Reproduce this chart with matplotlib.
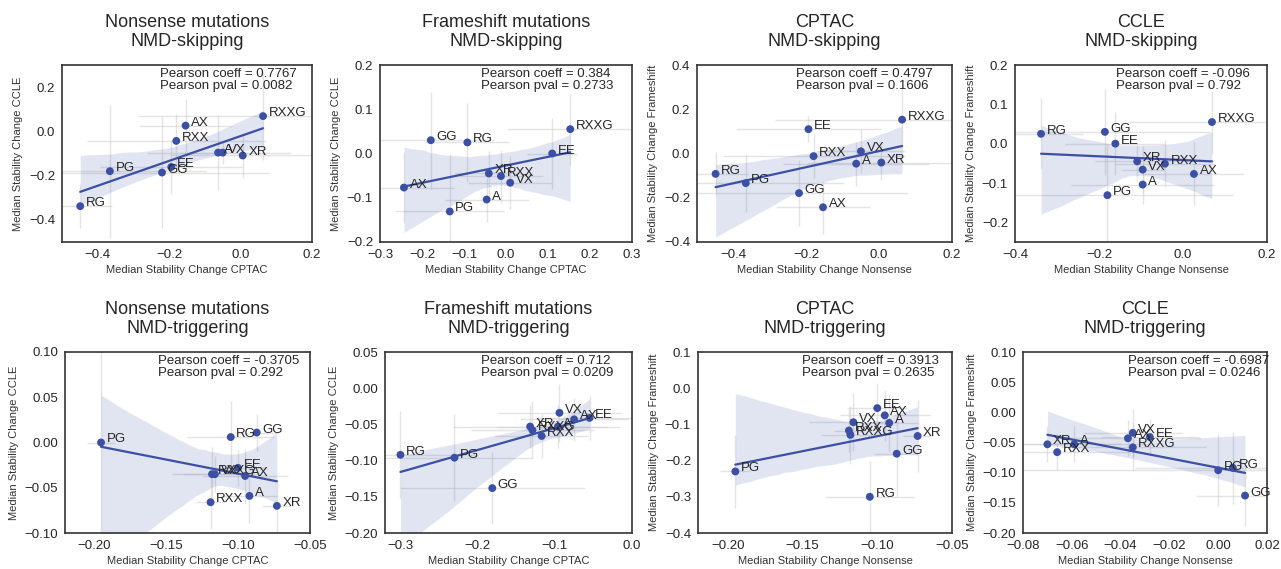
import numpy as np
import matplotlib
matplotlib.use("Agg")
import matplotlib.pyplot as plt
import seaborn as sns

sns.set_style("white")
plt.rcParams['font.family'] = ['Liberation Sans', 'DejaVu Sans']
plt.rcParams['axes.edgecolor'] = '#333333'
plt.rcParams['axes.linewidth'] = 1.2
plt.rcParams['text.color'] = '#262626'
plt.rcParams['xtick.color'] = '#262626'
plt.rcParams['ytick.color'] = '#262626'

labels = ['A', 'AX', 'EE', 'GG', 'PG', 'RG', 'RXX', 'RXXG', 'VX', 'XR']

# ---- NMD-skipping medians ----
skip_nonsense_cptac = [-0.063, -0.154, -0.194, -0.220, -0.366, -0.449, -0.180, 0.063, -0.050, 0.006]
skip_nonsense_ccle = [-0.096, 0.026, -0.161, -0.186, -0.180, -0.338, -0.043, 0.069, -0.096, -0.109]
skip_frameshift_cptac = [-0.046, -0.243, 0.110, -0.179, -0.134, -0.092, -0.012, 0.153, 0.010, -0.041]
skip_frameshift_ccle = [-0.104, -0.077, 0.000, 0.030, -0.131, 0.025, -0.051, 0.055, -0.066, -0.045]
# ---- NMD-skipping spreads (half widths) ----
skip_nonsense_cptac_err = [0.20, 0.13, 0.20, 0.30, 0.27, 0.09, 0.25, 0.35, 0.12, 0.20]
skip_nonsense_ccle_err = [0.17, 0.12, 0.12, 0.25, 0.30, 0.10, 0.12, 0.20, 0.05, 0.10]
skip_frameshift_cptac_err = [0.10, 0.12, 0.06, 0.15, 0.13, 0.10, 0.10, 0.15, 0.10, 0.08]
skip_frameshift_ccle_err = [0.05, 0.08, 0.08, 0.11, 0.13, 0.09, 0.06, 0.08, 0.06, 0.05]

# ---- NMD-triggering medians ----
trig_nonsense_cptac = [-0.092, -0.095, -0.100, -0.087, -0.195, -0.105, -0.119, -0.118, -0.116, -0.073]
trig_nonsense_ccle = [-0.059, -0.037, -0.028, 0.011, 0.000, 0.006, -0.066, -0.035, -0.035, -0.070]
trig_frameshift_cptac = [-0.096, -0.075, -0.055, -0.181, -0.230, -0.300, -0.117, -0.129, -0.094, -0.132]
trig_frameshift_ccle = [-0.053, -0.043, -0.041, -0.138, -0.096, -0.092, -0.066, -0.058, -0.034, -0.053]
# ---- NMD-triggering spreads (half widths) ----
trig_nonsense_cptac_err = [0.02, 0.03, 0.02, 0.015, 0.01, 0.03, 0.01, 0.02, 0.03, 0.01]
trig_nonsense_ccle_err = [0.03, 0.03, 0.02, 0.02, 0.10, 0.04, 0.03, 0.03, 0.02, 0.03]
trig_frameshift_cptac_err = [0.08, 0.07, 0.07, 0.12, 0.10, 0.10, 0.06, 0.08, 0.08, 0.10]
trig_frameshift_ccle_err = [0.03, 0.03, 0.03, 0.05, 0.06, 0.06, 0.03, 0.04, 0.04, 0.03]

titles = ['Nonsense mutations\nNMD-skipping', 'Frameshift mutations\nNMD-skipping',
          'CPTAC\nNMD-skipping', 'CCLE\nNMD-skipping',
          'Nonsense mutations\nNMD-triggering', 'Frameshift mutations\nNMD-triggering',
          'CPTAC\nNMD-triggering', 'CCLE\nNMD-triggering']
xlabels = ['Median Stability Change CPTAC', 'Median Stability Change CPTAC',
           'Median Stability Change Nonsense', 'Median Stability Change Nonsense'] * 2
ylabels = ['Median Stability Change CCLE', 'Median Stability Change CCLE',
           'Median Stability Change Frameshift', 'Median Stability Change Frameshift'] * 2
pearson_coeff = ['0.7767', '0.384', '0.4797', '-0.096', '-0.3705', '0.712', '0.3913', '-0.6987']
pearson_pval = ['0.0082', '0.2733', '0.1606', '0.792', '0.292', '0.0209', '0.2635', '0.0246']

panels = [
    (skip_nonsense_cptac, skip_nonsense_ccle, skip_nonsense_cptac_err, skip_nonsense_ccle_err),
    (skip_frameshift_cptac, skip_frameshift_ccle, skip_frameshift_cptac_err, skip_frameshift_ccle_err),
    (skip_nonsense_cptac, skip_frameshift_cptac, skip_nonsense_cptac_err, skip_frameshift_cptac_err),
    (skip_nonsense_ccle, skip_frameshift_ccle, skip_nonsense_ccle_err, skip_frameshift_ccle_err),
    (trig_nonsense_cptac, trig_nonsense_ccle, trig_nonsense_cptac_err, trig_nonsense_ccle_err),
    (trig_frameshift_cptac, trig_frameshift_ccle, trig_frameshift_cptac_err, trig_frameshift_ccle_err),
    (trig_nonsense_cptac, trig_frameshift_cptac, trig_nonsense_cptac_err, trig_frameshift_cptac_err),
    (trig_nonsense_ccle, trig_frameshift_ccle, trig_nonsense_ccle_err, trig_frameshift_ccle_err),
]

xlims = [(-0.5, 0.2), (-0.3, 0.3), (-0.5, 0.2), (-0.4, 0.2),
         (-0.22, -0.05), (-0.32, 0.0), (-0.22, -0.05), (-0.08, 0.02)]
ylims = [(-0.5, 0.3), (-0.2, 0.2), (-0.4, 0.4), (-0.25, 0.2),
         (-0.1, 0.1), (-0.2, 0.05), (-0.4, 0.1), (-0.2, 0.1)]
xticks = [np.arange(-0.4, 0.21, 0.2), np.arange(-0.3, 0.31, 0.1), np.arange(-0.4, 0.21, 0.2),
          np.arange(-0.4, 0.21, 0.2), np.arange(-0.20, -0.049, 0.05), np.arange(-0.3, 0.01, 0.1),
          np.arange(-0.20, -0.049, 0.05), np.arange(-0.08, 0.021, 0.02)]
yticks = [np.arange(-0.4, 0.21, 0.2), np.arange(-0.2, 0.21, 0.1), np.arange(-0.4, 0.41, 0.2),
          np.arange(-0.2, 0.21, 0.1), np.arange(-0.10, 0.101, 0.05), np.arange(-0.20, 0.051, 0.05),
          np.arange(-0.4, 0.11, 0.1), np.arange(-0.20, 0.101, 0.05)]

# axes boxes in pixels: left, top, right, bottom
W, H = 1281, 569
boxes = [(62, 65, 312, 242), (380, 65, 632, 242), (697, 65, 952, 242), (1015, 65, 1267, 242),
         (65, 352, 310, 533), (385, 352, 632, 533), (698, 352, 952, 533), (1023, 352, 1267, 533)]
text_x = [0.39, 0.40, 0.39, 0.40, 0.38, 0.39, 0.41, 0.43]

color = '#3B4FA5'
fig = plt.figure(figsize=(W / 100, H / 100), dpi=100)

for i, (x, y, xe, ye) in enumerate(panels):
    l, t, r, b = boxes[i]
    ax = fig.add_axes([l / W, 1 - b / H, (r - l) / W, (b - t) / H])
    x = np.array(x)
    y = np.array(y)
    ax.errorbar(x, y, xerr=xe, yerr=ye, fmt='none', ecolor='#cfcfcf', elinewidth=1.0,
                alpha=0.55, zorder=1)
    sns.regplot(x=x, y=y, ax=ax, scatter=False, ci=95, seed=0, truncate=True,
                color=color, line_kws={'lw': 1.6, 'zorder': 2})
    ax.scatter(x, y, s=32, color=color, zorder=3, edgecolors='none')
    for lab, xi, yi in zip(labels, x, y):
        ax.annotate(lab, (xi, yi), xytext=(4, 0), textcoords='offset points',
                    ha='left', va='baseline', fontsize=9.5, color='#262626', zorder=4)
    ax.text(text_x[i], 0.985, f'Pearson coeff = {pearson_coeff[i]}\nPearson pval = {pearson_pval[i]}',
            transform=ax.transAxes, ha='left', va='top', fontsize=9.5, color='#262626',
            linespacing=1.05)
    ax.set_xlim(xlims[i])
    ax.set_ylim(ylims[i])
    ax.set_xticks(xticks[i])
    ax.set_yticks(yticks[i])
    ax.tick_params(labelsize=9.5, length=0, pad=5)
    ax.set_xlabel(xlabels[i], fontsize=8, color='#333333', labelpad=3)
    ax.set_ylabel(ylabels[i], fontsize=8, color='#333333', labelpad=4)
    ax.set_title(titles[i], fontsize=13, pad=14, color='#262626', linespacing=1.15)

fig.savefig('out.png', dpi=100)
